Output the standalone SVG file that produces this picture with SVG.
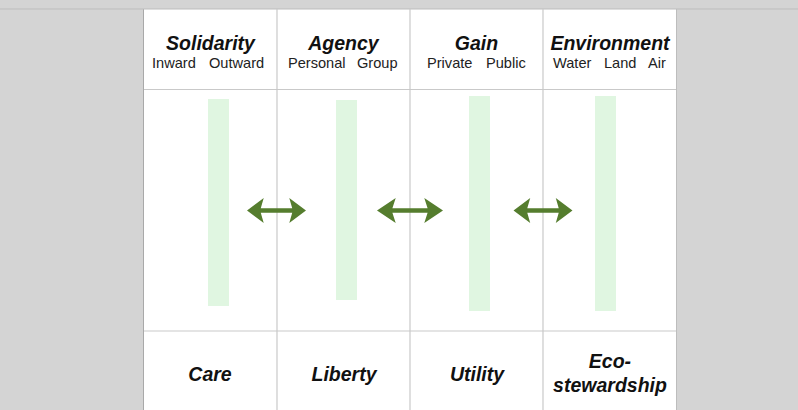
<svg xmlns="http://www.w3.org/2000/svg" width="798" height="410" viewBox="0 0 798 410">
  <style>
    .head { font-family: "Liberation Sans", Arial, sans-serif; font-weight: bold; font-style: italic; font-size: 19.5px; fill: #111; text-anchor: middle; }
    .sub { font-family: "Liberation Sans", Arial, sans-serif; font-size: 14.6px; fill: #222; }
    .foot { font-family: "Liberation Sans", Arial, sans-serif; font-weight: bold; font-style: italic; font-size: 19.5px; fill: #111; text-anchor: middle; }
    .grid { stroke: #c9c9c9; stroke-width: 1.2; fill: none; }
    .bar { fill: #e0f6e1; }
    .arrow { fill: #557d2e; }
  </style>
  <defs>
    <!-- double-headed arrow, unit half-length 30 -->
    <path id="dbl" d="M -30 0 L -13 -12.5 L -16 -2.2 L 16 -2.2 L 13 -12.5 L 30 0 L 13 12.5 L 16 2.2 L -16 2.2 L -13 12.5 Z"/>
  </defs>

  <!-- backdrop -->
  <rect x="0" y="0" width="798" height="410" fill="#d4d4d4"/>
  <rect x="144" y="9" width="532" height="401" fill="#ffffff"/>
  <line x1="143.5" y1="9" x2="143.5" y2="410" stroke="#a9a9a9" stroke-width="1"/>
  <line x1="676.5" y1="9" x2="676.5" y2="410" stroke="#bdbdbd" stroke-width="1"/>
  <line x1="0" y1="9" x2="798" y2="9" stroke="#bdbdbd" stroke-width="1"/>

  <!-- grid -->
  <g id="grid">
    <line class="grid" x1="144" y1="89.5" x2="676" y2="89.5"/>
    <line class="grid" x1="144" y1="331" x2="676" y2="331"/>
    <line class="grid" x1="277" y1="9" x2="277" y2="410"/>
    <line class="grid" x1="410" y1="9" x2="410" y2="410"/>
    <line class="grid" x1="543" y1="9" x2="543" y2="410"/>
  </g>

  <g id="solidarity">
    <text class="head" x="210.5" y="50">Solidarity</text>
    <text class="sub" x="152" y="68">Inward</text>
    <text class="sub" x="209" y="68">Outward</text>
    <rect class="bar" x="208" y="99" width="21" height="207"/>
    <text class="foot" x="210" y="381">Care</text>
  </g>

  <g id="agency">
    <text class="head" x="343.5" y="50">Agency</text>
    <text class="sub" x="288" y="68">Personal</text>
    <text class="sub" x="357" y="68">Group</text>
    <rect class="bar" x="336" y="100" width="21" height="200"/>
    <text class="foot" x="344" y="381">Liberty</text>
  </g>

  <g id="gain">
    <text class="head" x="476.5" y="50">Gain</text>
    <text class="sub" x="427" y="68">Private</text>
    <text class="sub" x="486" y="68">Public</text>
    <rect class="bar" x="469" y="96" width="21" height="215"/>
    <text class="foot" x="477" y="381">Utility</text>
  </g>

  <g id="environment">
    <text class="head" x="610" y="50">Environment</text>
    <text class="sub" x="553" y="68">Water</text>
    <text class="sub" x="604" y="68">Land</text>
    <text class="sub" x="648" y="68">Air</text>
    <rect class="bar" x="595" y="96" width="21" height="215"/>
    <text class="foot" x="610" y="368">Eco-</text>
    <text class="foot" x="610" y="392">stewardship</text>
  </g>

  <g id="connectors">
    <use href="#dbl" class="arrow" transform="translate(276.5 210.5) scale(0.983 1)"/>
    <use href="#dbl" class="arrow" transform="translate(410 210.5) scale(1.1 1)"/>
    <use href="#dbl" class="arrow" transform="translate(543 210.5) scale(0.983 1)"/>
  </g>
</svg>
